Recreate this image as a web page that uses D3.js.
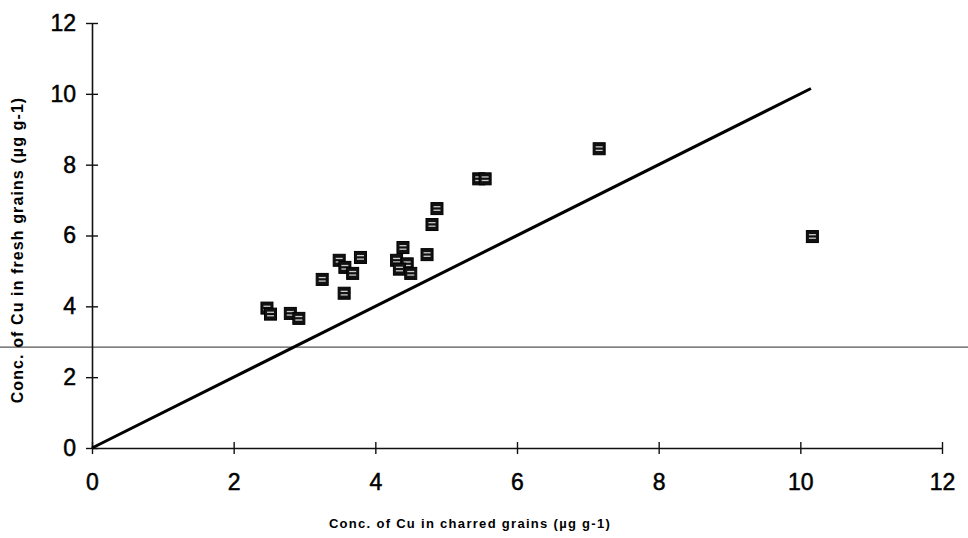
<!DOCTYPE html>
<html><head><meta charset="utf-8">
<script src="https://cdn.jsdelivr.net/npm/d3@7"></script>
<style>body{margin:0;background:#fff}svg{display:block}</style>
</head><body><svg id="c" width="968" height="538"></svg>
<script>
const charred = [2.47,2.52,2.8,2.92,3.25,3.49,3.57,3.68,3.79,3.56,4.3,4.45,4.39,4.34,4.5,4.73,4.8,4.87,5.46,5.55,7.16,10.17];
const fresh   = [3.95,3.78,3.8,3.66,4.76,5.3,5.1,4.93,5.38,4.37,5.3,5.2,5.66,5.05,4.93,5.46,6.31,6.76,7.6,7.6,8.45,5.97];
const lineX = [0, 10.15];
const xTicks = [0,2,4,6,8,10,12];
const yTicks = [0,2,4,6,8,10,12];
const refY = 2.85;

const svg = d3.select("#c");
const x = d3.scaleLinear().domain([0,12]).range([92,942]);
const y = d3.scaleLinear().domain([0,12]).range([448,23]);

// scan artefact horizontal line
svg.append("line").attr("x1",0).attr("x2",968).attr("y1",y(refY)).attr("y2",y(refY))
  .attr("stroke","#555").attr("stroke-width",1.2);

// axes
const xa = svg.append("g").attr("transform","translate(0,"+y(0)+")")
  .call(d3.axisBottom(x).tickValues(xTicks).tickSizeInner(6).tickSizeOuter(0).tickPadding(20));
xa.selectAll(".tick line").attr("y1",-6).attr("y2",6);
const ya = svg.append("g").attr("transform","translate("+x(0)+",0)")
  .call(d3.axisLeft(y).tickValues(yTicks).tickSizeInner(6).tickSizeOuter(0).tickPadding(10));
ya.selectAll(".tick line").attr("x1",-6).attr("x2",6);
[xa,ya].forEach(g=>{
  g.select(".domain").attr("stroke","#111").attr("stroke-width",1.6);
  g.selectAll(".tick line").attr("stroke","#111").attr("stroke-width",1.4);
  g.selectAll(".tick text").attr("font-family","Liberation Sans, Arial, sans-serif")
   .attr("font-size",23).attr("fill","#000").attr("stroke","#000").attr("stroke-width",0.5);
});

// 1:1 line
svg.append("path").datum(lineX)
  .attr("d", d3.line().x(d=>x(d)).y(d=>y(d)))
  .attr("stroke","#000").attr("stroke-width",3).attr("fill","none");

// markers
const pts = charred.map((c,i)=>({c, f:fresh[i]}));
const g = svg.append("g").selectAll("g").data(pts).join("g")
  .attr("transform",d=>"translate("+x(d.c)+","+y(d.f)+")");
g.append("rect").attr("x",-6).attr("y",-6).attr("width",12).attr("height",12)
  .attr("fill","#111").attr("stroke","#000").attr("stroke-width",1);
g.append("rect").attr("x",-3.5).attr("y",-2.5).attr("width",7).attr("height",1.3).attr("fill","#ccc");
g.append("rect").attr("x",-3.5).attr("y",1).attr("width",7).attr("height",1.3).attr("fill","#ccc");

// titles
svg.append("text").attr("x",470).attr("y",528).attr("text-anchor","middle")
  .attr("font-family","Liberation Sans, Arial, sans-serif").attr("font-weight","bold")
  .attr("font-size",13).attr("letter-spacing",1.3)
  .text("Conc. of Cu in charred grains (µg g-1)");
svg.append("text").attr("transform","translate(23,250) rotate(-90)").attr("text-anchor","middle")
  .attr("font-family","Liberation Sans, Arial, sans-serif").attr("font-weight","bold")
  .attr("font-size",16).attr("letter-spacing",1.1)
  .text("Conc. of Cu in fresh grains (µg g-1)");
</script></body></html>
